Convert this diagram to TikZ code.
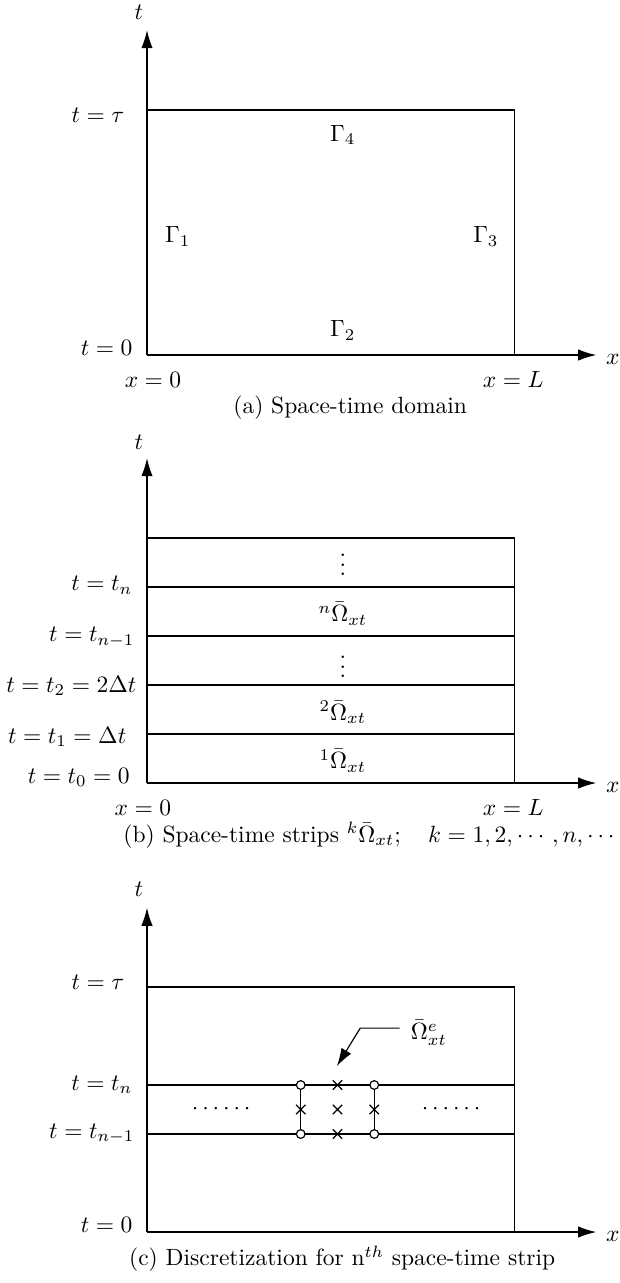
\documentclass[tikz,border=0pt]{standalone}
\usepackage{amsmath,amssymb}
\usepackage{tikz}
\usetikzlibrary{arrows.meta, positioning}

\begin{document}
\begin{tikzpicture}[line width=0.5pt, every node/.style={inner sep=0pt},
  axis/.style={-{Latex[length=2.7mm,width=1.7mm]}},
  tlabel/.style={anchor=east},
  node/.style={circle, draw, fill=white, minimum size=1.3mm}]
  \useasboundingbox (-2.199,5.311) rectangle (7.076,-13.883);
  % (a) Space-time domain
  \begin{scope}
    \coordinate (oa) at (0,0);
    \coordinate (ta) at (0,4.86);
    \coordinate (xa) at (6.72,0);
    \draw[axis] (oa) -- (ta);
    \draw[axis] (oa) -- (xa);
    \draw (0,3.665) -- (5.5,3.665) -- (5.5,0);
    \node (tlaba) at (-0.12,5.12) {$t$};
    \node (xlaba) at (6.97,-0.07) {$x$};
    \node[tlabel] (tau) at (-0.33,3.59) {$t=\tau$};
    \node[tlabel] (t0a) at (-0.21,0.10) {$t=0$};
    \node (x0a) at (0.09,-0.37) {$x=0$};
    \node (xLa) at (5.48,-0.37) {$x=L$};
    \node (g4) at (2.93,3.29) {$\Gamma_4$};
    \node (g1) at (0.46,1.77) {$\Gamma_1$};
    \node (g3) at (5.07,1.77) {$\Gamma_3$};
    \node (g2) at (2.93,0.37) {$\Gamma_2$};
    \node (capa) at (3.04,-0.79) {(a) Space-time domain};
  \end{scope}
  % (b) Space-time strips
  \begin{scope}[yshift=-6.403cm]
    \coordinate (ob) at (0,0);
    \coordinate (tb) at (0,4.86);
    \coordinate (xb) at (6.72,0);
    \draw[axis] (ob) -- (tb);
    \draw[axis] (ob) -- (xb);
    \draw (0,3.665) -- (5.5,3.665) -- (5.5,0);
    \foreach \k in {1,...,4}
      \draw (0,\k*0.733) -- (5.5,\k*0.733);
    \node (tlabb) at (-0.12,5.10) {$t$};
    \node (xlabb) at (6.97,-0.07) {$x$};
    \node[tlabel] (tnb) at (-0.21,2.96) {$t=t_n$};
    \node[tlabel] (tn1b) at (-0.18,2.18) {$t=t_{n-1}$};
    \node[tlabel] (t2b) at (-0.15,1.45) {$t=t_2=2\Delta t$};
    \node[tlabel] (t1b) at (-0.30,0.69) {$t=t_1=\Delta t$};
    \node[tlabel] (t0b) at (-0.25,0.08) {$t=t_0=0$};
    \node (x0b) at (-0.06,-0.37) {$x=0$};
    \node (xLb) at (5.48,-0.37) {$x=L$};
    \node (s1) at (2.93,0.33) {${}^1\bar{\Omega}_{xt}$};
    \node (s2) at (2.93,1.06) {${}^2\bar{\Omega}_{xt}$};
    \node (sdots) at (2.93,1.84) {$\vdots$};
    \node (sn) at (2.93,2.53) {${}^n\bar{\Omega}_{xt}$};
    \node (sdotstop) at (2.93,3.37) {$\vdots$};
    \node (capb) at (3.35,-0.78) {(b) Space-time strips ${}^k\bar{\Omega}_{xt};\quad k=1,2,\cdots,n,\cdots$};
  \end{scope}
  % (c) Discretization of the nth strip
  \begin{scope}[yshift=-13.120cm]
    \coordinate (oc) at (0,0);
    \coordinate (tc) at (0,4.85);
    \coordinate (xc) at (6.72,0);
    \draw[axis] (oc) -- (tc);
    \draw[axis] (oc) -- (xc);
    \draw (0,3.665) -- (5.5,3.665) -- (5.5,0);
    \draw (0,2.199) -- (5.5,2.199);
    \draw (0,1.466) -- (5.5,1.466);
    \node (tlabc) at (-0.12,5.12) {$t$};
    \node (xlabc) at (6.97,-0.07) {$x$};
    \node[tlabel] (tauc) at (-0.33,3.74) {$t=\tau$};
    \node[tlabel] (tnc) at (-0.21,2.20) {$t=t_n$};
    \node[tlabel] (tn1c) at (-0.18,1.47) {$t=t_{n-1}$};
    \node[tlabel] (t0c) at (-0.21,0.10) {$t=0$};
    \node (dotsl) at (1.14,1.84) {$\cdots\cdots$};
    \node (dotsr) at (4.58,1.84) {$\cdots\cdots$};
    % element
    \draw (2.3,1.466) -- (2.3,2.199);
    \draw (3.4,1.466) -- (3.4,2.199);
    \foreach \px/\py in {2.85/1.466, 2.85/2.199, 2.3/1.8325, 2.85/1.8325, 3.4/1.8325}
      \draw (\px-0.07,\py-0.07) -- (\px+0.07,\py+0.07)
            (\px-0.07,\py+0.07) -- (\px+0.07,\py-0.07);
    \foreach \px/\py [count=\i] in {2.3/1.466, 2.3/2.199, 3.4/1.466, 3.4/2.199}
      \node[node] (n\i) at (\px,\py) {};
    \node[anchor=west] (elem) at (3.94,2.98) {$\bar{\Omega}^e_{xt}$};
    \coordinate (lead) at (3.78,3.05);
    \coordinate (elbow) at (3.19,3.05);
    \coordinate (etip) at (2.84,2.48);
    \draw[axis] (lead) -- (elbow) -- (etip);
    \node (capc) at (2.92,-0.40) {(c) Discretization for n$^{th}$ space-time strip};
  \end{scope}
\end{tikzpicture}
\end{document}
